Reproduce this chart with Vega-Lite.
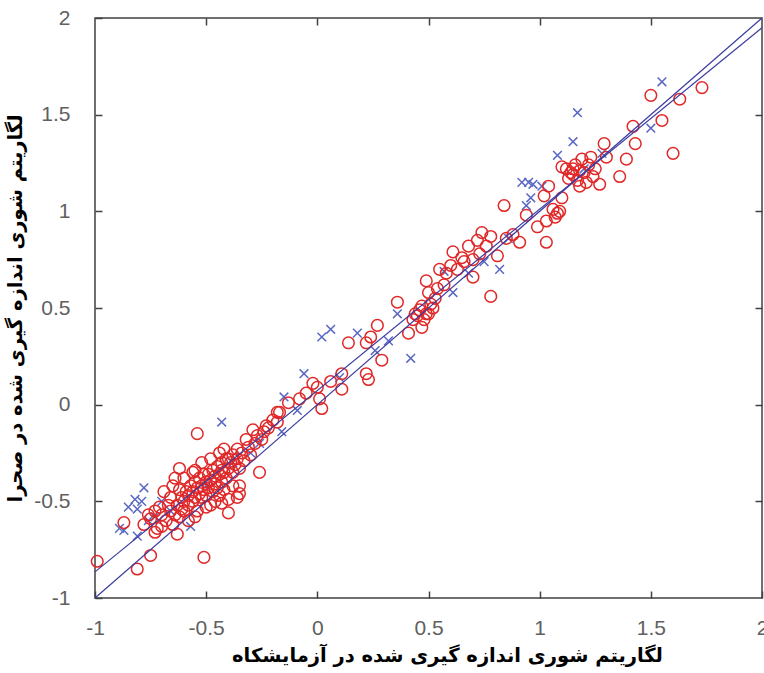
{
  "$schema": "https://vega.github.io/schema/vega-lite/v6.json",
  "width": 667,
  "height": 580,
  "autosize": "none",
  "padding": {"left": 95, "top": 18, "right": 2, "bottom": 75},
  "background": "white",
  "config": {
    "view": {"stroke": "#404040", "strokeWidth": 1.5},
    "axis": {
      "grid": false,
      "labelFont": "Liberation Sans",
      "labelFontSize": 21,
      "labelColor": "#606060",
      "labelOverlap": false,
      "labelFlush": false,
      "titleFont": "DejaVu Sans",
      "titleFontSize": 19.5,
      "titleFontWeight": "bold",
      "titleColor": "#000000"
    }
  },
  "datasets": {
    "lab_vs_field_cross": [
      {"x": -0.78, "y": -0.43}, {"x": -0.82, "y": -0.49}, {"x": -0.79, "y": -0.50}, {"x": -0.85, "y": -0.53},
      {"x": -0.81, "y": -0.54}, {"x": -0.87, "y": -0.65}, {"x": -0.81, "y": -0.68}, {"x": -0.57, "y": -0.63},
      {"x": -0.70, "y": -0.50}, {"x": -0.89, "y": -0.64}, {"x": -0.76, "y": -0.60}, {"x": -0.73, "y": -0.58},
      {"x": -0.66, "y": -0.55}, {"x": -0.43, "y": -0.09}, {"x": -0.15, "y": 0.04}, {"x": -0.09, "y": -0.03},
      {"x": -0.16, "y": -0.14}, {"x": -0.26, "y": -0.20}, {"x": -0.30, "y": -0.25}, {"x": -0.38, "y": -0.30},
      {"x": -0.50, "y": -0.42}, {"x": 0.02, "y": 0.35}, {"x": 0.06, "y": 0.39}, {"x": 0.18, "y": 0.37},
      {"x": 0.42, "y": 0.24}, {"x": -0.06, "y": 0.16}, {"x": 0.36, "y": 0.47}, {"x": 0.10, "y": 0.14},
      {"x": 0.26, "y": 0.28}, {"x": 0.32, "y": 0.33}, {"x": 0.94, "y": 1.03}, {"x": 0.82, "y": 0.70},
      {"x": 0.57, "y": 0.69}, {"x": 0.61, "y": 0.58}, {"x": 0.68, "y": 0.68}, {"x": 0.75, "y": 0.74},
      {"x": 0.86, "y": 0.86}, {"x": 1.55, "y": 1.67}, {"x": 1.17, "y": 1.51}, {"x": 1.15, "y": 1.36},
      {"x": 1.08, "y": 1.29}, {"x": 1.50, "y": 1.43}, {"x": 1.01, "y": 1.13}, {"x": 0.97, "y": 1.14},
      {"x": 0.96, "y": 1.07}, {"x": 0.92, "y": 1.15}, {"x": 0.95, "y": 1.15}, {"x": 1.20, "y": 1.22},
      {"x": 1.28, "y": 1.30}
    ],
    "lab_vs_field_circle": [
      {"x": -0.99, "y": -0.81}, {"x": -0.81, "y": -0.85}, {"x": -0.75, "y": -0.78}, {"x": -0.63, "y": -0.67},
      {"x": -0.51, "y": -0.79}, {"x": -0.87, "y": -0.61}, {"x": -0.73, "y": -0.66}, {"x": -0.75, "y": -0.59},
      {"x": -0.70, "y": -0.63}, {"x": -0.69, "y": -0.45}, {"x": -0.62, "y": -0.33}, {"x": -0.56, "y": -0.35},
      {"x": -0.64, "y": -0.38}, {"x": -0.51, "y": -0.36}, {"x": -0.61, "y": -0.54}, {"x": -0.55, "y": -0.58},
      {"x": -0.48, "y": -0.52}, {"x": -0.54, "y": -0.15}, {"x": -0.26, "y": -0.35}, {"x": -0.35, "y": -0.42},
      {"x": -0.36, "y": -0.48}, {"x": -0.43, "y": -0.51}, {"x": -0.40, "y": -0.56}, {"x": -0.38, "y": -0.42},
      {"x": -0.35, "y": -0.46}, {"x": -0.40, "y": -0.49}, {"x": -0.43, "y": -0.34}, {"x": -0.40, "y": -0.28},
      {"x": -0.36, "y": -0.23}, {"x": -0.32, "y": -0.18}, {"x": -0.29, "y": -0.13}, {"x": -0.42, "y": -0.23},
      {"x": -0.23, "y": -0.11}, {"x": -0.20, "y": -0.08}, {"x": -0.18, "y": -0.04}, {"x": -0.13, "y": 0.01},
      {"x": -0.05, "y": 0.06}, {"x": 0.00, "y": 0.09}, {"x": 0.01, "y": 0.03}, {"x": -0.17, "y": -0.04},
      {"x": -0.18, "y": -0.09},
      {"x": -0.68, "y": -0.60}, {"x": -0.66, "y": -0.55}, {"x": -0.65, "y": -0.62}, {"x": -0.64, "y": -0.57},
      {"x": -0.63, "y": -0.52}, {"x": -0.62, "y": -0.58}, {"x": -0.61, "y": -0.48}, {"x": -0.60, "y": -0.55},
      {"x": -0.60, "y": -0.50}, {"x": -0.59, "y": -0.45}, {"x": -0.58, "y": -0.52}, {"x": -0.58, "y": -0.47},
      {"x": -0.57, "y": -0.42}, {"x": -0.56, "y": -0.50}, {"x": -0.56, "y": -0.45}, {"x": -0.55, "y": -0.40},
      {"x": -0.55, "y": -0.48}, {"x": -0.54, "y": -0.43}, {"x": -0.53, "y": -0.46}, {"x": -0.53, "y": -0.38},
      {"x": -0.52, "y": -0.42}, {"x": -0.52, "y": -0.48}, {"x": -0.51, "y": -0.44}, {"x": -0.50, "y": -0.40},
      {"x": -0.50, "y": -0.47}, {"x": -0.49, "y": -0.36}, {"x": -0.49, "y": -0.43}, {"x": -0.48, "y": -0.39},
      {"x": -0.47, "y": -0.45}, {"x": -0.47, "y": -0.34}, {"x": -0.46, "y": -0.41}, {"x": -0.46, "y": -0.37},
      {"x": -0.45, "y": -0.32}, {"x": -0.45, "y": -0.43}, {"x": -0.44, "y": -0.36}, {"x": -0.43, "y": -0.40},
      {"x": -0.43, "y": -0.30}, {"x": -0.42, "y": -0.35}, {"x": -0.41, "y": -0.38}, {"x": -0.41, "y": -0.28},
      {"x": -0.40, "y": -0.33}, {"x": -0.39, "y": -0.30}, {"x": -0.38, "y": -0.35}, {"x": -0.38, "y": -0.26},
      {"x": -0.37, "y": -0.31}, {"x": -0.36, "y": -0.28}, {"x": -0.35, "y": -0.33}, {"x": -0.34, "y": -0.25},
      {"x": -0.33, "y": -0.29}, {"x": -0.31, "y": -0.22}, {"x": -0.30, "y": -0.26}, {"x": -0.28, "y": -0.20},
      {"x": -0.27, "y": -0.16}, {"x": -0.25, "y": -0.18}, {"x": -0.24, "y": -0.14}, {"x": -0.22, "y": -0.12},
      {"x": -0.72, "y": -0.64}, {"x": -0.70, "y": -0.57}, {"x": -0.67, "y": -0.52}, {"x": -0.71, "y": -0.53},
      {"x": -0.66, "y": -0.48}, {"x": -0.62, "y": -0.44}, {"x": -0.58, "y": -0.60}, {"x": -0.54, "y": -0.55},
      {"x": -0.50, "y": -0.53}, {"x": -0.46, "y": -0.50}, {"x": -0.44, "y": -0.47}, {"x": -0.42, "y": -0.44},
      {"x": -0.65, "y": -0.42}, {"x": -0.60, "y": -0.38}, {"x": -0.55, "y": -0.34}, {"x": -0.52, "y": -0.30},
      {"x": -0.48, "y": -0.28}, {"x": -0.44, "y": -0.25}, {"x": -0.78, "y": -0.62}, {"x": -0.76, "y": -0.57},
      {"x": -0.73, "y": -0.55},
      {"x": -0.02, "y": 0.11}, {"x": 0.06, "y": 0.12}, {"x": 0.11, "y": 0.16}, {"x": -0.08, "y": 0.03},
      {"x": 0.02, "y": -0.02}, {"x": 0.11, "y": 0.08}, {"x": 0.14, "y": 0.32}, {"x": 0.22, "y": 0.32},
      {"x": 0.24, "y": 0.35}, {"x": 0.27, "y": 0.41}, {"x": 0.29, "y": 0.23}, {"x": 0.22, "y": 0.16},
      {"x": 0.23, "y": 0.13}, {"x": 0.36, "y": 0.53}, {"x": 0.41, "y": 0.37}, {"x": 0.43, "y": 0.44},
      {"x": 0.49, "y": 0.47}, {"x": 0.46, "y": 0.49}, {"x": 0.47, "y": 0.40}, {"x": 0.45, "y": 0.46},
      {"x": 0.51, "y": 0.52}, {"x": 0.48, "y": 0.44}, {"x": 0.52, "y": 0.50}, {"x": 0.53, "y": 0.55},
      {"x": 0.44, "y": 0.47}, {"x": 0.47, "y": 0.51}, {"x": 0.50, "y": 0.47},
      {"x": 0.55, "y": 0.70}, {"x": 0.49, "y": 0.64}, {"x": 0.50, "y": 0.58}, {"x": 0.78, "y": 0.56},
      {"x": 0.61, "y": 0.79}, {"x": 0.65, "y": 0.76}, {"x": 0.68, "y": 0.82}, {"x": 0.72, "y": 0.85},
      {"x": 0.74, "y": 0.89}, {"x": 0.76, "y": 0.82}, {"x": 0.78, "y": 0.87}, {"x": 0.81, "y": 0.77},
      {"x": 0.84, "y": 1.03}, {"x": 0.91, "y": 0.84}, {"x": 0.94, "y": 0.98}, {"x": 0.99, "y": 0.92},
      {"x": 1.03, "y": 0.95}, {"x": 1.07, "y": 0.97}, {"x": 1.09, "y": 1.00}, {"x": 1.03, "y": 0.84},
      {"x": 0.70, "y": 0.66}, {"x": 0.58, "y": 0.68}, {"x": 0.60, "y": 0.72}, {"x": 0.63, "y": 0.70},
      {"x": 0.66, "y": 0.74}, {"x": 0.70, "y": 0.75}, {"x": 0.73, "y": 0.78}, {"x": 0.57, "y": 0.62},
      {"x": 0.54, "y": 0.60}, {"x": 0.88, "y": 0.88}, {"x": 0.85, "y": 0.86},
      {"x": 1.04, "y": 1.13}, {"x": 1.02, "y": 1.08}, {"x": 1.10, "y": 1.07}, {"x": 1.06, "y": 1.01},
      {"x": 1.08, "y": 0.99}, {"x": 1.10, "y": 1.23}, {"x": 1.12, "y": 1.22}, {"x": 1.15, "y": 1.19},
      {"x": 1.17, "y": 1.16}, {"x": 1.18, "y": 1.13}, {"x": 1.19, "y": 1.27}, {"x": 1.21, "y": 1.15},
      {"x": 1.23, "y": 1.28}, {"x": 1.25, "y": 1.22}, {"x": 1.27, "y": 1.14}, {"x": 1.29, "y": 1.35},
      {"x": 1.30, "y": 1.28}, {"x": 1.36, "y": 1.18}, {"x": 1.39, "y": 1.27}, {"x": 1.42, "y": 1.44},
      {"x": 1.43, "y": 1.35}, {"x": 1.50, "y": 1.60}, {"x": 1.55, "y": 1.47}, {"x": 1.60, "y": 1.30},
      {"x": 1.63, "y": 1.58}, {"x": 1.73, "y": 1.64}, {"x": 1.14, "y": 1.20}, {"x": 1.16, "y": 1.24},
      {"x": 1.20, "y": 1.20}, {"x": 1.13, "y": 1.17}, {"x": 1.22, "y": 1.24}, {"x": 1.15, "y": 1.22},
      {"x": 1.18, "y": 1.21}, {"x": 1.24, "y": 1.18}
    ],
    "fit_lines": [
      {"line": "a", "x": -1, "y": -1}, {"line": "a", "x": 2, "y": 2},
      {"line": "b", "x": -1, "y": -0.865}, {"line": "b", "x": 2, "y": 1.95}
    ]
  },
  "layer": [
    {
      "data": {"name": "lab_vs_field_cross"},
      "mark": {"type": "point", "shape": "M-1,-1L1,1M1,-1L-1,1", "filled": false, "stroke": "#5a68c4", "strokeWidth": 1.5, "size": 75, "opacity": 1},
      "encoding": {
        "x": {"field": "x", "type": "quantitative", "scale": {"domain": [-1, 2], "nice": false, "zero": false},
              "axis": {"values": [-1, -0.5, 0, 0.5, 1, 1.5, 2], "labelExpr": "'' + datum.value",
                       "offset": -7, "domainOpacity": 0,
                       "ticks": true, "tickSize": 7, "tickColor": "#404040", "tickWidth": 1.5,
                       "labelPadding": 19, "titleX": 352,
                       "title": "لگاریتم شوری اندازه گیری شده در آزمایشکاه", "titlePadding": 8}},
        "y": {"field": "y", "type": "quantitative", "scale": {"domain": [-1, 2], "nice": false, "zero": false},
              "axis": {"values": [-1, -0.5, 0, 0.5, 1, 1.5, 2], "labelExpr": "'' + datum.value",
                       "offset": -7, "domainOpacity": 0,
                       "ticks": true, "tickSize": 7, "tickColor": "#404040", "tickWidth": 1.5,
                       "labelPadding": 25,
                       "title": "لگاریتم شوری اندازه گیری شده در صحرا", "titlePadding": 8}}
      }
    },
    {
      "data": {"name": "lab_vs_field_circle"},
      "mark": {"type": "point", "shape": "circle", "filled": false, "stroke": "#e02828", "strokeWidth": 1.5, "size": 135, "opacity": 1},
      "encoding": {
        "x": {"field": "x", "type": "quantitative",
              "axis": {"values": [-0.5, 0, 0.5, 1, 1.5], "labels": false, "title": null,
                       "offset": -7, "domainOpacity": 0,
                       "ticks": true, "tickSize": 7, "tickColor": "#404040", "tickWidth": 1.5}},
        "y": {"field": "y", "type": "quantitative",
              "axis": {"values": [-0.5, 0, 0.5, 1, 1.5], "labels": false, "title": null,
                       "offset": -7, "domainOpacity": 0,
                       "ticks": true, "tickSize": 7, "tickColor": "#404040", "tickWidth": 1.5}}
      }
    },
    {
      "data": {"name": "fit_lines"},
      "mark": {"type": "line", "stroke": "#3c3ca0", "strokeWidth": 1.2},
      "encoding": {
        "x": {"field": "x", "type": "quantitative", "axis": null},
        "y": {"field": "y", "type": "quantitative", "axis": null},
        "detail": {"field": "line", "type": "nominal"}
      }
    }
  ],
  "resolve": {"axis": {"x": "independent", "y": "independent"}}
}
